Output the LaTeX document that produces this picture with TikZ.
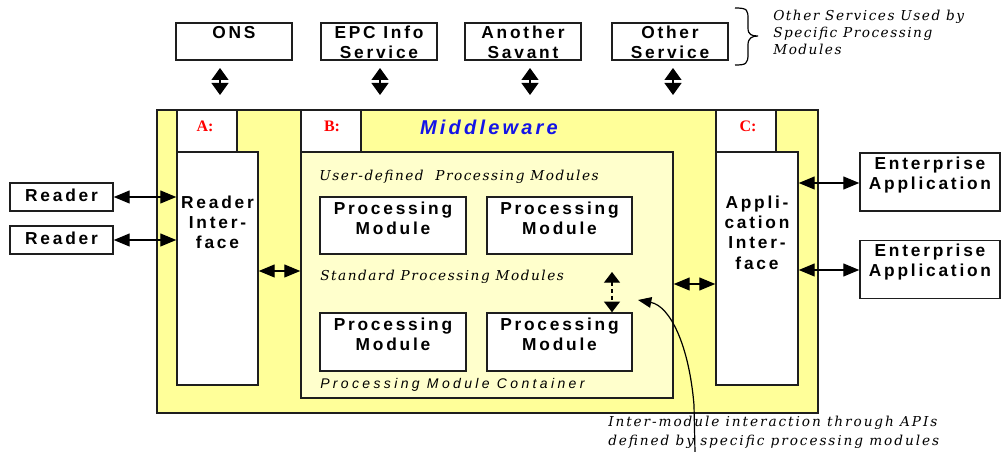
\documentclass[tikz,border=0pt]{standalone}
\usepackage{fontspec}
\setmainfont{Liberation Sans}
\newfontfamily\bsans[LetterSpace=16]{Liberation Sans}
\newfontfamily\mwfont[LetterSpace=16]{Liberation Sans}
\newfontfamily\iserif[LetterSpace=11]{DejaVu Serif}
\newfontfamily\iserifw[LetterSpace=14]{DejaVu Serif}
\newfontfamily\isans[LetterSpace=24]{Liberation Sans}
\newfontfamily\lblserif{Liberation Serif}
\usetikzlibrary{arrows.meta}
\definecolor{mwyellow}{RGB}{255,255,153}
\definecolor{contyellow}{RGB}{255,255,204}
\definecolor{lblred}{RGB}{255,0,0}
\definecolor{mwblue}{RGB}{20,20,230}
\definecolor{edge}{RGB}{30,30,30}
\begin{document}
\begin{tikzpicture}[x=0.75pt,y=-0.75pt,
  frame/.style={draw=edge, line width=1.1pt, inner sep=0pt},
  wbox/.style={frame, fill=white},
  btxt/.style={inner sep=0pt, align=center, font=\bsans\bfseries\fontsize{13}{15.2}\selectfont},
  ital/.style={inner sep=0pt, align=left, font=\iserif\itshape\fontsize{10.25}{12.75}\selectfont},
  lbl/.style={inner sep=0pt, text=lblred, font=\lblserif\bfseries\fontsize{12}{14}\selectfont},
  harr/.style={line width=0.9pt, {Triangle[length=12pt,width=9.75pt]}-{Triangle[length=12pt,width=9.75pt]}},
  varr/.style={line width=0.9pt, {Triangle[length=9pt,width=12.75pt]}-{Triangle[length=9pt,width=12.75pt]}},
  darr/.style={line width=0.9pt, dash pattern=on 3pt off 2pt, {Triangle[length=8pt,width=12pt]}-{Triangle[length=8pt,width=12pt]}},
  carr/.style={line width=0.9pt, -{Triangle[length=10pt,width=8pt]}}
]
\useasboundingbox (0,0) rectangle (1001,452);

% top services
\node[wbox, minimum width=87pt, minimum height=27.75pt] (ons) at (234,41.5) {};
\node[wbox, minimum width=87pt, minimum height=27.75pt] (epc) at (379,41.5) {};
\node[wbox, minimum width=87pt, minimum height=27.75pt] (ano) at (523,41.5) {};
\node[wbox, minimum width=87pt, minimum height=27.75pt] (oth) at (670,41.5) {};
\node[btxt] (onst) at (234,33) {ONS};
\node[btxt] (epct) at (379,42.5) {EPC Info\\Service};
\node[btxt] (anot) at (523,42.5) {Another\\Savant};
\node[btxt] (otht) at (670,42.5) {Other\\Service};

% brace and note
\draw[line width=0.9pt] (735,8) .. controls (748,8) and (748,10) .. (748,20) -- (748,28)
  .. controls (748,35) and (752,36) .. (758,36) .. controls (752,36) and (748,38) .. (748,45)
  -- (748,54) .. controls (748,64) and (746,65) .. (735,65);
\node[ital, anchor=north west] (note) at (773,10) {Other Services Used by\\Specific Processing\\Modules};

% middleware
\node[frame, fill=mwyellow, minimum width=495.75pt, minimum height=227.25pt] (mw) at (487.5,261.5) {};
\node[wbox, minimum width=45pt, minimum height=31.5pt] (abox) at (207,131) {};
\node[wbox, minimum width=45pt, minimum height=31.5pt] (bbox) at (331,131) {};
\node[wbox, minimum width=45pt, minimum height=31.5pt] (cbox) at (746,131) {};
\node[lbl] (alab) at (205,126) {A:};
\node[lbl] (blab) at (332,126) {B:};
\node[lbl] (clab) at (748,126) {C:};
\node[inner sep=0pt, text=mwblue, font=\mwfont\bfseries\itshape\fontsize{15}{17}\selectfont] (mwt) at (489,127) {Middleware};

\node[wbox, minimum width=60.75pt, minimum height=174.75pt] (ri) at (217.5,268.5) {};
\node[btxt] (rit) at (217.5,222.5) {Reader\\Inter-\\face};
\node[wbox, minimum width=61.5pt, minimum height=174.75pt] (ai) at (757,268.5) {};
\node[btxt] (ait) at (757,232.5) {Appli-\\cation\\Inter-\\face};

\node[frame, fill=contyellow, minimum width=279pt, minimum height=184.5pt] (cont) at (487,275) {};
\node[ital, anchor=west] (udef) at (319,177) {User-defined\ \ Processing Modules};
\node[ital, anchor=west] (std) at (320,277) {Standard Processing Modules};
\node[inner sep=0pt, anchor=west, font=\isans\itshape\fontsize{10.5}{12}\selectfont] (contl) at (320,385) {Processing Module Container};

\node[wbox, minimum width=109.5pt, minimum height=42.75pt] (pm1) at (393,225.5) {};
\node[wbox, minimum width=108.75pt, minimum height=42.75pt] (pm2) at (559.5,225.5) {};
\node[wbox, minimum width=109.5pt, minimum height=43.5pt] (pm3) at (393,342) {};
\node[wbox, minimum width=108.75pt, minimum height=43.5pt] (pm4) at (559.5,342) {};
\node[btxt] (pm1t) at (393,218) {Processing\\Module};
\node[btxt] (pm2t) at (559.5,218) {Processing\\Module};
\node[btxt] (pm3t) at (393,334) {Processing\\Module};
\node[btxt] (pm4t) at (559.5,334) {Processing\\Module};

% readers and enterprise apps
\node[wbox, minimum width=77.25pt, minimum height=21pt] (rd1) at (61.5,197) {};
\node[wbox, minimum width=77.25pt, minimum height=21pt] (rd2) at (61.5,240) {};
\node[btxt] (rd1t) at (61.5,195) {Reader};
\node[btxt] (rd2t) at (61.5,238) {Reader};
\node[wbox, minimum width=105pt, minimum height=43.5pt] (ent1) at (930,182) {};
\node[wbox, minimum width=105pt, minimum height=43.5pt] (ent2) at (930,269.5) {};
\node[btxt] (ent1t) at (930,175) {Enterprise\\Application};
\node[btxt] (ent2t) at (930,262) {Enterprise\\Application};

% coordinates
\coordinate (y271) at (0,271);
\coordinate (y284) at (0,284);
\coordinate (y183) at (0,183);
\coordinate (y270) at (0,270);
\coordinate (t1a) at (220,68); \coordinate (t1b) at (220,95);
\coordinate (t2a) at (380,68); \coordinate (t2b) at (380,95);
\coordinate (t3a) at (530,68); \coordinate (t3b) at (530,95);
\coordinate (t4a) at (673,68); \coordinate (t4b) at (673,95);
\coordinate (dtop) at (612,272);
\coordinate (cbot) at (695,452);
\coordinate (apitip) at (638,300);

% connectors
\draw[varr] (t1a) -- (t1b);
\draw[varr] (t2a) -- (t2b);
\draw[varr] (t3a) -- (t3b);
\draw[varr] (t4a) -- (t4b);
\draw[harr] (rd1.east) -- (rd1.east -| ri.west);
\draw[harr] (rd2.east) -- (rd2.east -| ri.west);
\draw[harr] (ri.east |- y271) -- (cont.west |- y271);
\draw[harr] (cont.east |- y284) -- (ai.west |- y284);
\draw[harr] (ai.east |- y183) -- (ent1.west |- y183);
\draw[harr] (ai.east |- y270) -- (ent2.west |- y270);
\draw[darr] (dtop) -- (dtop |- pm4.north);
\draw[carr] (cbot) -- (694,405) .. controls (689,345) and (670,306) .. (apitip);

\node[inner sep=0pt, align=left, anchor=north west, font=\iserifw\itshape\fontsize{10.25}{14.25}\selectfont] (api) at (608,416) {Inter-module interaction through APIs\\defined by specific processing modules};
\end{tikzpicture}
\end{document}
